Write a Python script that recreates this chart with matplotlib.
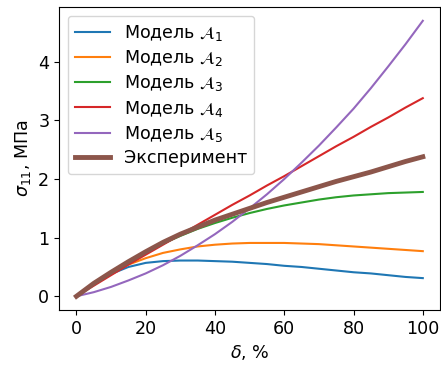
import numpy as np
import matplotlib
matplotlib.use("Agg")
import matplotlib.pyplot as plt

# strain, %
delta = [0, 5, 10, 15, 20, 25, 30, 35, 40, 45, 50,
         55, 60, 65, 70, 75, 80, 85, 90, 95, 100]

model_a1 = [0, 0.22, 0.38, 0.50, 0.57, 0.60, 0.61, 0.61, 0.60, 0.59, 0.57,
            0.55, 0.52, 0.50, 0.47, 0.44, 0.41, 0.39, 0.36, 0.33, 0.31]
model_a2 = [0, 0.22, 0.40, 0.54, 0.65, 0.74, 0.80, 0.85, 0.88, 0.90, 0.91,
            0.91, 0.91, 0.90, 0.89, 0.87, 0.85, 0.83, 0.81, 0.79, 0.77]
model_a3 = [0, 0.22, 0.42, 0.60, 0.76, 0.90, 1.03, 1.15, 1.25, 1.34, 1.42,
            1.49, 1.55, 1.60, 1.65, 1.69, 1.72, 1.74, 1.76, 1.77, 1.78]
model_a4 = [0, 0.18, 0.36, 0.54, 0.71, 0.88, 1.05, 1.22, 1.39, 1.56, 1.72,
            1.89, 2.05, 2.22, 2.39, 2.56, 2.72, 2.89, 3.05, 3.22, 3.38]
model_a5 = [0, 0.07, 0.16, 0.27, 0.39, 0.53, 0.69, 0.87, 1.06, 1.27, 1.50,
            1.74, 2.00, 2.28, 2.57, 2.88, 3.20, 3.55, 3.92, 4.30, 4.70]
experiment = [0, 0.22, 0.41, 0.59, 0.76, 0.92, 1.06, 1.18, 1.30, 1.40, 1.50,
              1.60, 1.69, 1.78, 1.87, 1.96, 2.04, 2.12, 2.21, 2.30, 2.38]

labels = [r"Модель $\mathcal{A}_1$", r"Модель $\mathcal{A}_2$",
          r"Модель $\mathcal{A}_3$", r"Модель $\mathcal{A}_4$",
          r"Модель $\mathcal{A}_5$"]

plt.rcParams["font.size"] = 12.6

fig = plt.figure(figsize=(4.41, 3.70), dpi=100)
ax = fig.add_axes([0.134, 0.162, 0.864, 0.819])

for ys, lab in zip([model_a1, model_a2, model_a3, model_a4, model_a5], labels):
    ax.plot(delta, ys, lw=1.5, label=lab)
ax.plot(delta, experiment, lw=3.5, color="C5", label="Эксперимент")

ax.set_xlabel(r"$\delta$, %")
ax.set_ylabel(r"$\sigma_{11}$, МПа")
ax.set_xticks([0, 20, 40, 60, 80, 100])
ax.set_yticks([0, 1, 2, 3, 4])
ax.legend(loc="upper left", labelspacing=0.3)

fig.savefig("out.png", dpi=100)
